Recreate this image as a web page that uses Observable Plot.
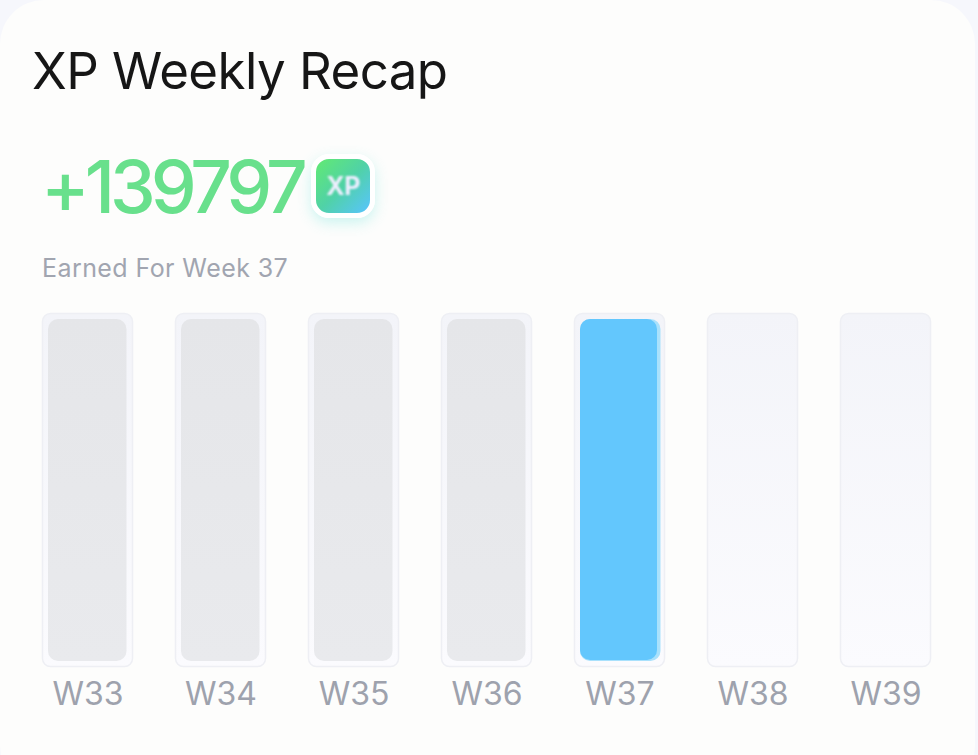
<!DOCTYPE html>
<html>
<head>
<meta charset="utf-8">
<script src="https://cdn.jsdelivr.net/npm/d3@7"></script>
<script src="https://cdn.jsdelivr.net/npm/@observablehq/plot@0.6"></script>
<style>
html,body{margin:0;padding:0;width:978px;height:755px;overflow:hidden;background:#f6f7fc;font-family:Inter,"Noto Sans",sans-serif}
#card{position:absolute;left:0;top:0;width:975px;height:790px;border-radius:44px;background:#fdfdfc}
#title{position:absolute;left:32px;top:38px;font-size:51px;line-height:66px;font-weight:400;color:#161616;letter-spacing:-.55px;white-space:nowrap}
#big{position:absolute;left:41px;top:144px;font-size:73px;line-height:86px;font-weight:500;color:#68e08c;letter-spacing:-5px;white-space:nowrap}
#icon{position:absolute;left:311px;top:154px;width:64px;height:64px;box-sizing:border-box;border:5px solid #fff;border-radius:18px;background:linear-gradient(135deg,#62ea72 0%,#50d2a6 50%,#58c4ff 100%);box-shadow:0 5px 14px rgba(90,225,215,.3);display:flex;align-items:center;justify-content:center}
#icon span{font-size:25px;font-weight:700;color:#eef;filter:blur(.9px);letter-spacing:-.5px}
#sub{position:absolute;left:42px;top:252px;font-size:25px;line-height:32px;color:#a1a5b0;letter-spacing:.42px;white-space:nowrap}
#chart{position:absolute;left:0;top:300px}
#chart svg{display:block;background:transparent}
</style>
</head>
<body>
<div id="card"></div>
<div id="title">XP Weekly Recap</div>
<div id="big">+139797</div>
<div id="icon"><span>XP</span></div>
<div id="sub">Earned For Week 37</div>
<div id="chart"></div>
<script>
const weeks = ["W33","W34","W35","W36","W37","W38","W39"];
const fill = [1,1,1,1,1,0,0];
const current = "W37";

const rows = weeks.map((w,i)=>({week:w, value:fill[i]}));
const earned = rows.filter(d=>d.value>0);
const past = earned.filter(d=>d.week!==current);
const now = earned.filter(d=>d.week===current);

function defs(){
  const g=d3.create("svg:g");
  const dfs=g.append("defs");
  const grad=(id,a,b)=>{
    const l=dfs.append("linearGradient").attr("id",id).attr("x1",0).attr("y1",0).attr("x2",0).attr("y2",1);
    l.append("stop").attr("offset","0%").attr("stop-color",a);
    l.append("stop").attr("offset","100%").attr("stop-color",b);
  };
  grad("trackGrad","#f3f4f9","#fbfbfe");
  grad("pastGrad","#e5e6e9","#e9eaed");
  return g.node();
}

const chart = Plot.plot({
  width:978, height:425,
  marginLeft:41, marginRight:47, marginTop:13, marginBottom:58,
  style:{fontFamily:"Inter, 'Noto Sans', sans-serif", background:"transparent", overflow:"visible"},
  x:{domain:weeks, paddingInner:0.317, paddingOuter:0, label:null},
  y:{domain:[0,1], axis:null},
  marks:[
    defs,
    Plot.barY(rows,{x:"week",y1:0,y2:()=>1,fill:"url(#trackGrad)",stroke:"#eeeff4",strokeWidth:1.5,inset:0.5,rx:8}),
    Plot.barY(past,{x:"week",y1:0,y2:"value",fill:"url(#pastGrad)",insetLeft:6,insetRight:6.5,insetTop:6,insetBottom:6,rx:10}),
    Plot.barY(now,{x:"week",y1:0,y2:"value",fill:"#a9e1fc",insetLeft:6,insetRight:4.5,insetTop:6,insetBottom:6,rx:10}),
    Plot.barY(now,{x:"week",y1:0,y2:"value",fill:"#63c7fd",insetLeft:6,insetRight:8,insetTop:6,insetBottom:7,rx:10}),
    Plot.axisX({tickSize:0,tickPadding:15,fontSize:32,fill:"#9ea2ad",fillOpacity:1,label:null,style:{letterSpacing:"0.4px"}})
  ]
});
document.getElementById("chart").appendChild(chart);
</script>
</body>
</html>
